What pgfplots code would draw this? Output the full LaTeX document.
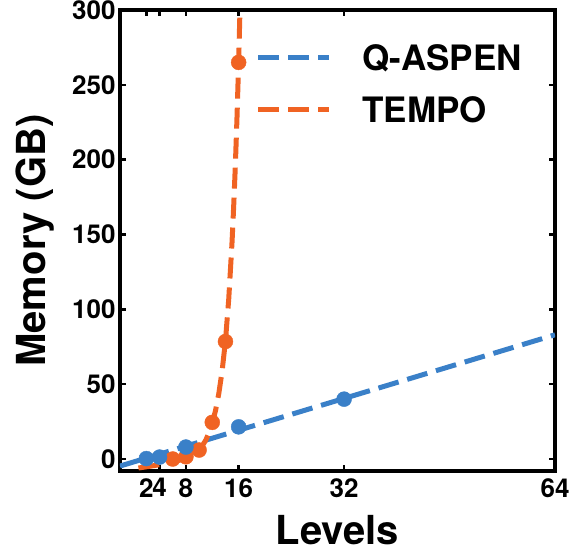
\documentclass[border=0pt]{standalone}
\usepackage{pgfplots}
\pgfplotsset{compat=1.18}
\usetikzlibrary{calc}
\usepackage{fontspec}
\setmainfont{TeX Gyre Heros}
\definecolor{qblue}{RGB}{58,128,200}
\definecolor{torange}{RGB}{240,99,35}
\begin{document}
\begin{tikzpicture}
\begin{axis}[
  name=ax,
  scale only axis, width=435pt, height=461pt,
  xmin=-2, xmax=64, ymin=-8, ymax=300,
  xtick={2,4,8,16,32,64}, ytick={0,50,...,300},
  tick align=inside, major tick length=6pt,
  tick style={line width=2.5pt, black},
  axis line style={line width=3.5pt},
  /pgf/number format/assume math mode=true,
  every tick label/.append style={font=\fontsize{26}{26}\selectfont\bfseries},
  xticklabel style={yshift=-4pt},
  yticklabel style={xshift=-1pt},
  xlabel={\bfseries Levels}, ylabel={\bfseries Memory (GB)},
  label style={font=\fontsize{40}{40}\selectfont},
  xlabel style={at={(axis description cs:0.5,-0.128)}, anchor=center},
  ylabel style={at={(axis description cs:-0.195,0.5)}, anchor=center},
  legend style={draw=none, fill=none, inner sep=0pt, outer sep=0pt,
    at={(0.3126,0.926)}, anchor=north west,
    font=\fontsize{35}{35}\selectfont\bfseries,
    nodes={inner sep=0pt, text height=26pt, text depth=0pt},
    row sep=26pt},
  legend cell align=left,
  legend image code/.code={\draw[#1] (0pt,0pt) -- (71pt,0pt); \path[draw=none] (71pt,0pt) -- (104pt,0pt);},
]
\addplot[qblue, line width=5pt, dash pattern=on 21pt off 9pt] coordinates {(-2,-4.7) (64,83)};
\addlegendentry{Q-ASPEN}
\addplot[torange, line width=5pt, dash pattern=on 21pt off 9pt] coordinates {
(0.8,-6) (2,-5.2) (4,-3.8) (6,-2) (7,-0.8) (8,0.8) (9,3) (10,6.5) (10.5,9) (11,12.5)
(11.5,17.5) (12,24) (12.5,32.5) (13,44) (13.5,59) (14,79) (14.5,107) (15,145)
(15.25,169) (15.5,196) (15.75,228) (16,265) (16.25,308)};
\addlegendentry{TEMPO}
\addplot[torange, only marks, mark=*, mark size=7.5pt, forget plot] coordinates {
(6,0) (8,1.5) (10,6) (12,24.5) (14,78.5) (16,265)};
\addplot[qblue, only marks, mark=*, mark size=7.5pt, forget plot] coordinates {
(2,0.3) (4,1.3) (8,8) (16,21.5) (32,40)};
\end{axis}
\pgfresetboundingbox
\path ($(ax.south west)+(-120pt,-85pt)$) rectangle ($(ax.north east)+(17pt,10pt)$);
\end{tikzpicture}
\end{document}
